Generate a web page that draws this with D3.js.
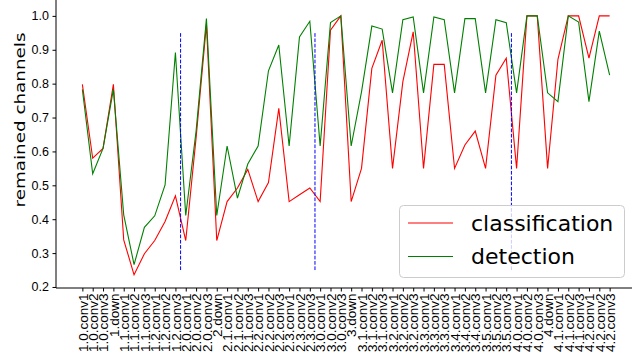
<!DOCTYPE html>
<html>
<head>
<meta charset="utf-8">
<script src="https://cdn.jsdelivr.net/npm/d3@7"></script>
<style>
  html, body { margin: 0; padding: 0; background: #fff; }
  svg { display: block; font-family: "DejaVu Sans", sans-serif; }
</style>
</head>
<body>
<svg id="chart" width="632" height="360"></svg>
<script>
// layer names along the x axis
const layers = [
  "1.0.conv1", "1.0.conv2", "1.0.conv3", "1.down",
  "1.1.conv1", "1.1.conv2", "1.1.conv3",
  "1.2.conv1", "1.2.conv2", "1.2.conv3",
  "2.0.conv1", "2.0.conv2", "2.0.conv3", "2.down",
  "2.1.conv1", "2.1.conv2", "2.1.conv3",
  "2.2.conv1", "2.2.conv2", "2.2.conv3",
  "2.3.conv1", "2.3.conv2", "2.3.conv3",
  "3.0.conv1", "3.0.conv2", "3.0.conv3", "3.down",
  "3.1.conv1", "3.1.conv2", "3.1.conv3",
  "3.2.conv1", "3.2.conv2", "3.2.conv3",
  "3.3.conv1", "3.3.conv2", "3.3.conv3",
  "3.4.conv1", "3.4.conv2", "3.4.conv3",
  "3.5.conv1", "3.5.conv2", "3.5.conv3",
  "4.0.conv1", "4.0.conv2", "4.0.conv3", "4.down",
  "4.1.conv1", "4.1.conv2", "4.1.conv3",
  "4.2.conv1", "4.2.conv2", "4.2.conv3"
]

const classification = [
  0.798, 0.580, 0.609, 0.798, 0.339, 0.236, 0.298, 0.337, 0.393, 0.469,
  0.337, 0.640, 0.975, 0.337, 0.452, 0.492, 0.547, 0.452, 0.508, 0.727,
  0.452, 0.472, 0.492, 0.452, 0.958, 1.000, 0.452, 0.550, 0.845, 0.928,
  0.550, 0.806, 0.953, 0.550, 0.857, 0.857, 0.550, 0.619, 0.660, 0.550,
  0.825, 0.875, 0.550, 1.000, 1.000, 0.550, 0.872, 1.000, 1.000, 0.875,
  1.000, 1.000
]

const detection = [
  0.783, 0.534, 0.609, 0.783, 0.413, 0.266, 0.376, 0.410, 0.501, 0.892,
  0.411, 0.660, 0.992, 0.411, 0.616, 0.462, 0.563, 0.616, 0.838, 0.914,
  0.616, 0.938, 0.984, 0.616, 0.980, 1.000, 0.616, 0.776, 0.970, 0.961,
  0.773, 0.989, 0.997, 0.773, 0.997, 0.989, 0.773, 0.992, 0.992, 0.773,
  0.989, 0.980, 0.773, 1.000, 1.000, 0.773, 0.747, 1.000, 0.982, 0.747,
  0.955, 0.825
]

// stage boundaries (between layer indices)
const separators = [9.5, 22.5, 41.5]
const sepRange = [0.25, 0.95]

const yTicks = [0.2, 0.3, 0.4, 0.5, 0.6, 0.7, 0.8, 0.9, 1.0]

const series = [
  { name: "classification", values: classification, color: "#ff0000" },
  { name: "detection", values: detection, color: "#008000" }
]

const svg = d3.select("#chart")

const x = d3.scaleLinear().domain([-2.55, 53.55]).range([56, 636])
const y = d3.scaleLinear().domain([0.197, 1.038]).range([288, 3])

// axes
const yAxis = svg.append("g")
  .attr("transform", "translate(56,0)")
  .call(d3.axisLeft(y).tickValues(yTicks).tickFormat(d3.format(".1f")).tickSize(3.5).tickPadding(3.5))
yAxis.select(".domain").attr("stroke", "#000").attr("d", "M0,0V288")
yAxis.selectAll("text").style("font-size", "12.5px").attr("fill", "#000")

const xAxis = svg.append("g")
  .attr("transform", "translate(0,288)")
  .call(d3.axisBottom(x).tickValues(d3.range(layers.length)).tickFormat(i => layers[i]).tickSize(3.5))
xAxis.select(".domain").attr("stroke", "#000").attr("d", "M56,0H632")
xAxis.selectAll("text")
  .style("font-size", "13.5px")
  .attr("fill", "#000")
  .attr("transform", "rotate(-90)")
  .attr("x", -5.5)
  .attr("y", 0)
  .attr("dy", "0.35em")
  .style("text-anchor", "end")

// y label
svg.append("text")
  .attr("transform", "translate(25,120) rotate(-90)")
  .attr("text-anchor", "middle")
  .attr("textLength", 175)
  .attr("lengthAdjust", "spacingAndGlyphs")
  .style("font-size", "14.5px")
  .text("remained channels")

// lines
const line = d3.line()
  .x((d, i) => x(i))
  .y(d => y(d))

svg.selectAll(".series")
  .data(series)
  .enter()
  .append("path")
  .attr("class", "series")
  .attr("d", d => line(d.values))
  .attr("fill", "none")
  .attr("stroke", d => d.color)
  .attr("stroke-width", 1.1)
  .attr("stroke-linejoin", "miter")

// dashed separators
svg.selectAll(".sep")
  .data(separators)
  .enter()
  .append("line")
  .attr("class", "sep")
  .attr("x1", d => x(d))
  .attr("x2", d => x(d))
  .attr("y1", y(sepRange[0]))
  .attr("y2", y(sepRange[1]))
  .attr("stroke", "#0000ff")
  .attr("stroke-width", 1)
  .attr("stroke-dasharray", "3.7,1.6")

// legend
const legend = svg.append("g").attr("transform", "translate(399,205)")
legend.append("rect")
  .attr("x", 0.5).attr("y", 0.5)
  .attr("width", 225).attr("height", 72)
  .attr("rx", 4)
  .attr("fill", "#fff").attr("fill-opacity", 0.8)
  .attr("stroke", "#cccccc").attr("stroke-width", 1)

const items = legend.selectAll(".item")
  .data(series)
  .enter()
  .append("g")
  .attr("transform", (d, i) => "translate(0," + (18 + i * 33.5) + ")")
items.append("line")
  .attr("x1", 9).attr("x2", 54)
  .attr("stroke", d => d.color)
  .attr("stroke-width", 1.1)
items.append("text")
  .attr("x", 72)
  .attr("dy", "0.36em")
  .style("font-size", "22px")
  .text(d => d.name)
</script>
</body>
</html>
